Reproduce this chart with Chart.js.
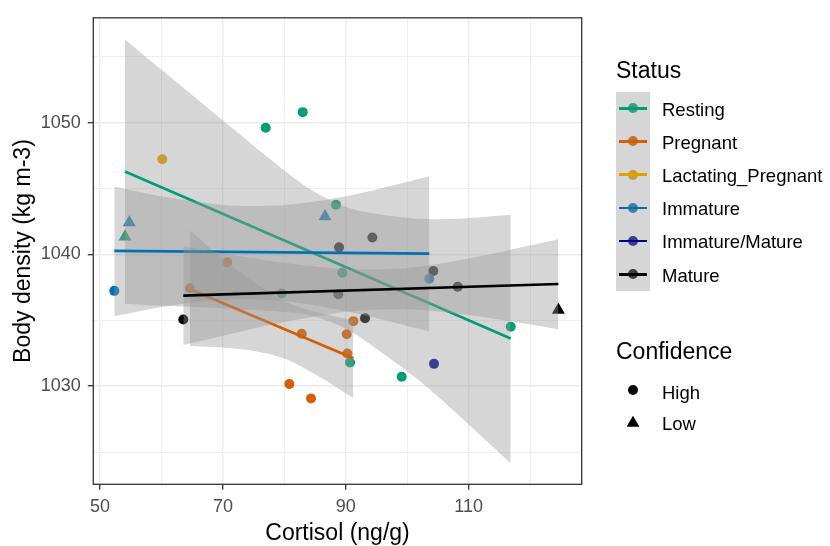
<!DOCTYPE html>
<html>
<head>
<meta charset="utf-8">
<title>Body density vs cortisol</title>
<script src="https://cdn.jsdelivr.net/npm/chart.js@4.4.1/dist/chart.umd.min.js"></script>
<style>
    body { margin: 0; background: #fff; }
    #wrap { position: relative; width: 830px; height: 546px; font-family: 'Liberation Sans', Arial, sans-serif; }
    #chart { position: absolute; left: 0; top: 0; }
    .legend-title { position: absolute; left: 616px; font-size: 23px; line-height: 23px; color: #000; white-space: nowrap; }
    .legend-row { position: absolute; left: 616px; display: flex; align-items: center; }
    .legend-key { position: relative; width: 34px; height: 100%; }
    .legend-label { position: relative; top: 1.5px; margin-left: 12px; font-size: 18.5px; line-height: 18.5px; color: #000; white-space: nowrap; }
    .legend-shade { position: absolute; left: 616px; width: 34px; background: rgba(153, 153, 153, 0.4); z-index: 2; }
    .key-point { position: absolute; left: 12px; top: 50%; width: 10px; height: 10px; margin-top: -5px; border-radius: 50%; z-index: 1; }
    .key-line { position: absolute; left: 3px; width: 28px; top: 50%; height: 2.7px; margin-top: -1.35px; z-index: 3; }
    .key-tri { position: absolute; left: 10.5px; top: 50%; width: 13px; height: 11px; margin-top: -7px; background: #000;
               clip-path: polygon(50% 0, 100% 100%, 0 100%); }
</style>
</head>
<body>
<div id="wrap">
    <canvas id="chart" width="830" height="546"></canvas>
</div>
<script>
// axis ranges and tick positions
const X_MIN = 48.9, X_MAX = 128.4;
const Y_MIN = 1022.55, Y_MAX = 1057.95;
const X_TICKS = [50, 60, 70, 80, 90, 100, 110, 120];
const X_LABELS = [50, 70, 90, 110];
const Y_TICKS = [1025, 1030, 1035, 1040, 1045, 1050, 1055];
const Y_LABELS = [1030, 1040, 1050];

const STATUSES = ['Resting', 'Pregnant', 'Lactating_Pregnant', 'Immature', 'Immature/Mature', 'Mature'];
const STATUS_COLORS = ['#009E73', '#D55E00', '#E69F00', '#0072B2', '#00008B', '#000000'];
const CONFIDENCE = ['High', 'Low'];

// observations: cortisol (ng/g), body density (kg m-3), confidence
const RESTING_CORTISOL = [54.06, 76.96, 82.99, 88.41, 89.43, 79.57, 90.69, 99.1, 116.85];
const RESTING_DENSITY = [1041.33, 1049.61, 1050.79, 1043.77, 1038.6, 1037.03, 1031.79, 1030.71, 1034.5];
const RESTING_CONF = ['Low', 'High', 'High', 'High', 'High', 'High', 'High', 'High', 'High'];

const PREGNANT_CORTISOL = [64.64, 70.71, 80.81, 84.34, 82.82, 91.23, 90.15, 90.25];
const PREGNANT_DENSITY = [1037.43, 1039.4, 1030.16, 1029.07, 1033.98, 1034.93, 1033.93, 1032.48];
const PREGNANT_CONF = ['High', 'High', 'High', 'High', 'High', 'High', 'High', 'High'];

const LACTATING_CORTISOL = [60.13];
const LACTATING_DENSITY = [1047.22];
const LACTATING_CONF = ['High'];

const IMMATURE_CORTISOL = [52.32, 54.76, 86.62, 103.6];
const IMMATURE_DENSITY = [1037.23, 1042.41, 1042.88, 1038.15];
const IMMATURE_CONF = ['High', 'Low', 'Low', 'High'];

const IMM_MAT_CORTISOL = [104.36];
const IMM_MAT_DENSITY = [1031.69];
const IMM_MAT_CONF = ['High'];

const MATURE_CORTISOL = [63.55, 88.9, 94.32, 88.78, 93.13, 104.25, 108.22, 124.6];
const MATURE_DENSITY = [1035.06, 1040.53, 1041.28, 1036.98, 1035.16, 1038.73, 1037.55, 1035.78];
const MATURE_CONF = ['High', 'High', 'High', 'High', 'High', 'High', 'High', 'Low'];

// linear fits (end points) and their confidence bands
const RESTING_FIT_X = [54.06, 116.85];
const RESTING_FIT_Y = [1046.28, 1033.62];
const RESTING_BAND_X = [54.06, 60, 66, 72, 78, 84, 90, 96, 102, 108, 116.85];
const RESTING_BAND_HI = [1056.3, 1054.0, 1051.7, 1049.4, 1047.1, 1045.0, 1043.6, 1043.0, 1042.7, 1042.7, 1043.0];
const RESTING_BAND_LO = [1036.26, 1036.1, 1036.0, 1035.85, 1035.7, 1035.4, 1034.35, 1032.5, 1030.4, 1027.95, 1024.15];

const PREGNANT_FIT_X = [64.64, 91.23];
const PREGNANT_FIT_Y = [1037.35, 1032.11];
const PREGNANT_BAND_X = [64.64, 70, 75, 80, 85, 91.23];
const PREGNANT_BAND_HI = [1041.8, 1039.65, 1037.9, 1036.45, 1035.65, 1035.0];
const PREGNANT_BAND_LO = [1033.05, 1032.93, 1032.67, 1032.1, 1030.9, 1029.1];

const IMMATURE_FIT_X = [52.32, 103.6];
const IMMATURE_FIT_Y = [1040.27, 1040.05];
const IMMATURE_BAND_X = [52.32, 60, 70, 80, 90, 103.6];
const IMMATURE_BAND_HI = [1045.15, 1044.4, 1043.75, 1043.75, 1044.4, 1045.9];
const IMMATURE_BAND_LO = [1035.3, 1036.0, 1036.55, 1036.45, 1035.7, 1034.15];

const MATURE_FIT_X = [63.55, 124.6];
const MATURE_FIT_Y = [1036.87, 1037.75];
const MATURE_BAND_X = [63.55, 70, 80, 90, 100, 110, 124.6];
const MATURE_BAND_HI = [1040.62, 1040.09, 1039.36, 1038.87, 1038.97, 1039.69, 1041.15];
const MATURE_BAND_LO = [1033.12, 1033.83, 1034.86, 1035.63, 1035.83, 1035.39, 1034.32];

const BAND_FILL = 'rgba(153, 153, 153, 0.4)';

const zip = (xs, ys) => xs.map((x, i) => ({ x, y: ys[i] }));

function pointDataset(status, xs, ys, conf) {
    const color = STATUS_COLORS[STATUSES.indexOf(status)];
    return {
        type: 'scatter',
        label: status,
        data: zip(xs, ys),
        backgroundColor: color,
        borderColor: color,
        borderWidth: 0,
        pointStyle: conf.map(c => c === 'Low' ? 'triangle' : 'circle'),
        pointRadius: conf.map(c => c === 'Low' ? 7.5 : 5),
        order: 100
    };
}

// each smooth = band (lower edge + filled upper edge) then the fitted line on top
function smoothDatasets(status, fitX, fitY, bandX, hi, lo, order) {
    const color = STATUS_COLORS[STATUSES.indexOf(status)];
    const edge = { type: 'line', borderWidth: 0, pointRadius: 0, tension: 0.3 };
    return [
        { ...edge, label: status + ' lower', data: zip(bandX, lo), fill: false, order },
        { ...edge, label: status + ' upper', data: zip(bandX, hi), fill: '-1', backgroundColor: BAND_FILL, order },
        {
            type: 'line', label: status + ' fit', data: zip(fitX, fitY),
            borderColor: color, borderWidth: 2.7, pointRadius: 0, fill: false, order: order - 1
        }
    ];
}

const datasets = [
    pointDataset('Resting', RESTING_CORTISOL, RESTING_DENSITY, RESTING_CONF),
    pointDataset('Pregnant', PREGNANT_CORTISOL, PREGNANT_DENSITY, PREGNANT_CONF),
    pointDataset('Lactating_Pregnant', LACTATING_CORTISOL, LACTATING_DENSITY, LACTATING_CONF),
    pointDataset('Immature', IMMATURE_CORTISOL, IMMATURE_DENSITY, IMMATURE_CONF),
    pointDataset('Immature/Mature', IMM_MAT_CORTISOL, IMM_MAT_DENSITY, IMM_MAT_CONF),
    pointDataset('Mature', MATURE_CORTISOL, MATURE_DENSITY, MATURE_CONF),
    ...smoothDatasets('Resting', RESTING_FIT_X, RESTING_FIT_Y, RESTING_BAND_X, RESTING_BAND_HI, RESTING_BAND_LO, 90),
    ...smoothDatasets('Pregnant', PREGNANT_FIT_X, PREGNANT_FIT_Y, PREGNANT_BAND_X, PREGNANT_BAND_HI, PREGNANT_BAND_LO, 80),
    ...smoothDatasets('Immature', IMMATURE_FIT_X, IMMATURE_FIT_Y, IMMATURE_BAND_X, IMMATURE_BAND_HI, IMMATURE_BAND_LO, 70),
    ...smoothDatasets('Mature', MATURE_FIT_X, MATURE_FIT_Y, MATURE_BAND_X, MATURE_BAND_HI, MATURE_BAND_LO, 60)
];

// dark frame around the plotting panel
const panelBorder = {
    id: 'panelBorder',
    afterDatasetsDraw(chart) {
        const { ctx, chartArea: a } = chart;
        ctx.save();
        ctx.strokeStyle = '#333333';
        ctx.lineWidth = 1.3;
        ctx.strokeRect(a.left, a.top, a.right - a.left, a.bottom - a.top);
        ctx.restore();
    }
};

function gridOptions(labels) {
    const major = ctx => ctx.tick && labels.includes(ctx.tick.value);
    return {
        color: '#EBEBEB',
        lineWidth: ctx => major(ctx) ? 1.4 : 0.8,
        tickColor: ctx => major(ctx) ? '#333333' : 'rgba(0,0,0,0)',
        tickWidth: 1.3,
        tickLength: 5.5
    };
}

Chart.defaults.font.family = "'Liberation Sans', Arial, sans-serif";

new Chart(document.getElementById('chart'), {
    type: 'scatter',
    data: { datasets },
    options: {
        responsive: false,
        animation: false,
        layout: { padding: { left: 0, top: 11.7, right: 248.3, bottom: 0 } },
        plugins: { legend: { display: false }, tooltip: { enabled: false } },
        scales: {
            x: {
                type: 'linear',
                min: X_MIN,
                max: X_MAX,
                afterBuildTicks: s => { s.ticks = X_TICKS.map(v => ({ value: v })); },
                afterFit: s => { s.height = 61.7; },
                ticks: {
                    callback: v => X_LABELS.includes(v) ? String(v) : '',
                    color: '#4D4D4D', font: { size: 18 }, padding: 6,
                    maxRotation: 0, autoSkip: false
                },
                grid: gridOptions(X_LABELS),
                border: { display: false },
                title: {
                    display: true, text: 'Cortisol (ng/g)', color: '#000',
                    font: { size: 23, lineHeight: 1 }, padding: { top: 0, bottom: 1 }
                }
            },
            y: {
                type: 'linear',
                min: Y_MIN,
                max: Y_MAX,
                afterBuildTicks: s => { s.ticks = Y_TICKS.map(v => ({ value: v })); },
                afterFit: s => { s.width = 93.3; },
                ticks: {
                    callback: v => Y_LABELS.includes(v) ? String(v) : '',
                    color: '#4D4D4D', font: { size: 18 }, padding: 7, autoSkip: false
                },
                grid: gridOptions(Y_LABELS),
                border: { display: false },
                title: {
                    display: true, text: 'Body density (kg m-3)', color: '#000',
                    font: { size: 23, lineHeight: 1 }, padding: { top: 12, bottom: 0 }
                }
            }
        }
    },
    plugins: [panelBorder]
});

function renderLegend() {
    const wrap = document.getElementById('wrap');
    const rowH = 33.2, top = 91.7;
    let html = `<div class="legend-title" style="top:58.8px">Status</div>`;
    html += STATUSES.map((name, i) => {
        const c = STATUS_COLORS[i];
        return `<div class="legend-row" style="top:${top + i * rowH}px;height:${rowH}px">
            <div class="legend-key">
                <div class="key-point" style="background:${c}"></div>
                <div class="key-line" style="background:${c}"></div>
            </div>
            <div class="legend-label">${name}</div>
        </div>`;
    }).join('');
    // one grey band behind the whole key column, drawn over the key points
    html += `<div class="legend-shade" style="top:${top}px;height:${rowH * STATUSES.length}px"></div>`;
    html += `<div class="legend-title" style="top:339.8px">Confidence</div>`;
    html += CONFIDENCE.map((name, i) => {
        const shape = name === 'Low'
            ? `<div class="key-tri"></div>`
            : `<div class="key-point" style="background:#000;margin-top:-6.5px"></div>`;
        return `<div class="legend-row" style="top:${375 + i * 31.3}px;height:33px">
            <div class="legend-key">${shape}</div>
            <div class="legend-label">${name}</div>
        </div>`;
    }).join('');
    wrap.insertAdjacentHTML('beforeend', html);
}

renderLegend();
</script>
</body>
</html>
